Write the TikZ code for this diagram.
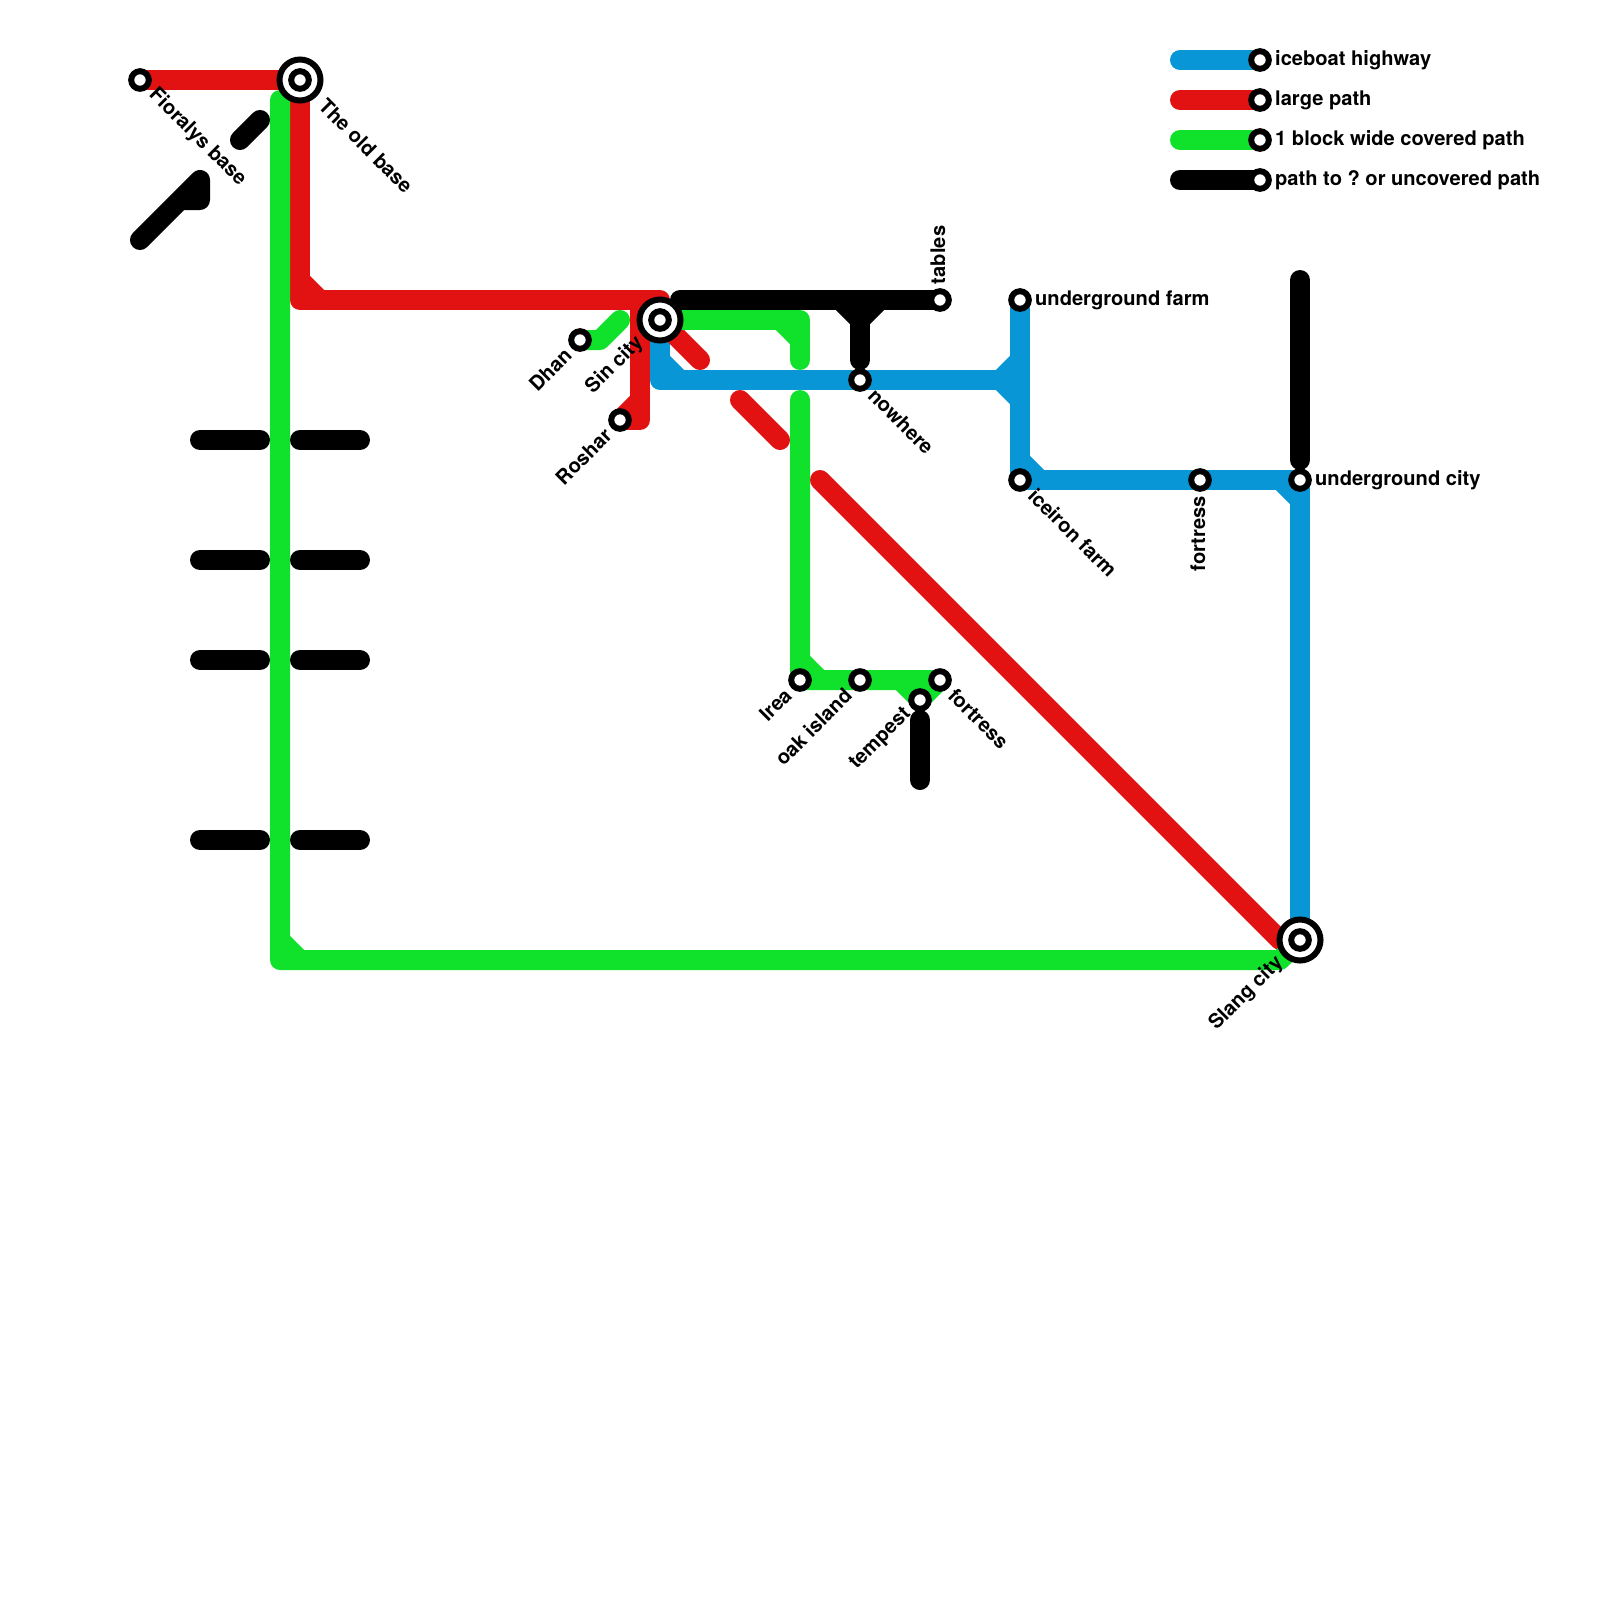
\documentclass[tikz,border=0pt]{standalone}
\usepackage{fontspec}
\setmainfont{TeX Gyre Heros}
\usepackage{xcolor}
\usetikzlibrary{backgrounds}
\definecolor{iceblue}{HTML}{0896D7}
\definecolor{largered}{HTML}{E21212}
\definecolor{coveredgreen}{HTML}{10E22B}
\frenchspacing
\tikzset{
  rail/.style={line width=0.5cm, line cap=round, line join=round},
  blueline/.style={rail, draw=iceblue},
  redline/.style={rail, draw=largered},
  greenline/.style={rail, draw=coveredgreen},
  blackline/.style={rail, draw=black},
  stn/.style={circle, draw=black, fill=white, line width=0.15cm, minimum size=0.44cm, inner sep=0pt, outer sep=0pt},
  hub/.style={circle, draw=black, fill=white, line width=0.15cm, minimum size=1.025cm, inner sep=0pt, outer sep=0pt},
  lbl/.style={font=\bfseries\fontsize{14.3}{16}\selectfont, inner sep=0pt, outer sep=0pt, text=black},
  lblR/.style={lbl, xshift=#1, anchor=west},
  lblR/.default=0.38cm,
  lblSE/.style={lbl, xshift=#1, yshift=-#1, rotate=-45, anchor=west},
  lblSE/.default=0.3cm,
  lblSW/.style={lbl, xshift=-#1, yshift=-#1, rotate=45, anchor=east},
  lblSW/.default=0.3cm,
  lblUp/.style={lbl, xshift=-0.05cm, yshift=0.4cm, rotate=90, anchor=west},
  lblDn/.style={lbl, xshift=-0.05cm, yshift=-0.4cm, rotate=90, anchor=east}
}
\begin{document}
\begin{tikzpicture}[x=0.5cm, y=-0.5cm]
\useasboundingbox (0,0) rectangle (80,80);

\node[stn] (Fio) at (7,4) {};
\node[hub] (Old) at (15,4) {};
\node[stn] (OldC) at (15,4) {};
\node[hub] (Sin) at (33,16) {};
\node[stn] (SinC) at (33,16) {};
\node[hub] (Sl) at (65,47) {};
\node[stn] (SlC) at (65,47) {};
\node[stn] (Dhan) at (29,17) {};
\node[stn] (Ros) at (31,21) {};
\node[stn] (Now) at (43,19) {};
\node[stn] (Tab) at (47,15) {};
\node[stn] (UF) at (51,15) {};
\node[stn] (IF) at (51,24) {};
\node[stn] (Fo) at (60,24) {};
\node[stn] (UC) at (65,24) {};
\node[stn] (Ir) at (40,34) {};
\node[stn] (Oak) at (43,34) {};
\node[stn] (Tem) at (46,35) {};
\node[stn] (For) at (47,34) {};
\node[stn] (L1) at (63,3) {};
\node[stn] (L2) at (63,5) {};
\node[stn] (L3) at (63,7) {};
\node[stn] (L4) at (63,9) {};

\node[lblSE] (FioL) at (Fio) {Fioralys base};
\node[lblSE=0.56cm] (OldL) at (Old) {The old base};
\node[lblSW=0.5cm] (SinL) at (Sin) {Sin city};
\node[lblSW=0.5cm] (SlL) at (Sl) {Slang city};
\node[lblSW] (DhanL) at (Dhan) {Dhan};
\node[lblSW] (RosL) at (Ros) {Roshar};
\node[lblSE] (NowL) at (Now) {nowhere};
\node[lblUp] (TabL) at (Tab) {tables};
\node[lblR] (UFL) at (UF) {underground farm};
\node[lblSE] (IFL) at (IF) {iceiron farm};
\node[lblDn] (FoL) at (Fo) {fortress};
\node[lblR] (UCL) at (UC) {underground city};
\node[lblSW] (IrL) at (Ir) {Irea};
\node[lblSW] (OakL) at (Oak) {oak island};
\node[lblSW] (TemL) at (Tem) {tempest};
\node[lblSE] (ForL) at (For) {fortress};
\node[lblR] (L1L) at (L1) {iceboat highway};
\node[lblR] (L2L) at (L2) {large path};
\node[lblR] (L3L) at (L3) {1 block wide covered path};
\node[lblR] (L4L) at (L4) {path to ? or uncovered path};

\coordinate (bA) at (33,19);
\coordinate (bB) at (51,19);
\coordinate (bC) at (33,18);
\coordinate (bD) at (34,19);
\coordinate (bE) at (50,19);
\coordinate (bF) at (51,18);
\coordinate (bG) at (51,20);
\coordinate (bH) at (51,23);
\coordinate (bI) at (52,24);
\coordinate (bJ) at (64,24);
\coordinate (bK) at (65,25);
\coordinate (rA) at (15,15);
\coordinate (rB) at (33,15);
\coordinate (rC) at (32,15);
\coordinate (rD) at (32,21);
\coordinate (rE) at (15,14);
\coordinate (rF) at (16,15);
\coordinate (rG) at (32,20);
\coordinate (rH) at (35,18);
\coordinate (rI) at (37,20);
\coordinate (rJ) at (39,22);
\coordinate (rK) at (41,24);
\coordinate (rL) at (64,47);
\coordinate (gA) at (14,5);
\coordinate (gB) at (14,48);
\coordinate (gC) at (64,48);
\coordinate (gD) at (14,47);
\coordinate (gE) at (15,48);
\coordinate (gF) at (30,17);
\coordinate (gG) at (31,16);
\coordinate (gH) at (40,16);
\coordinate (gI) at (40,18);
\coordinate (gJ) at (39,16);
\coordinate (gK) at (40,17);
\coordinate (gL) at (40,20);
\coordinate (gM) at (40,33);
\coordinate (gN) at (41,34);
\coordinate (gO) at (45,34);
\coordinate (kA) at (34,15);
\coordinate (kB) at (43,15);
\coordinate (kC) at (43,18);
\coordinate (kD) at (42,15);
\coordinate (kE) at (43,16);
\coordinate (kF) at (44,15);
\coordinate (kG) at (46,36);
\coordinate (kH) at (46,39);
\coordinate (kI) at (65,14);
\coordinate (kJ) at (65,23);
\coordinate (kK) at (7,12);
\coordinate (kL) at (10,9);
\coordinate (kM) at (10,10);
\coordinate (kN) at (9,10);
\coordinate (kO) at (12,7);
\coordinate (kP) at (13,6);
\coordinate (T1a) at (10,22);
\coordinate (T1b) at (13,22);
\coordinate (T2a) at (15,22);
\coordinate (T2b) at (18,22);
\coordinate (T3a) at (10,28);
\coordinate (T3b) at (13,28);
\coordinate (T4a) at (15,28);
\coordinate (T4b) at (18,28);
\coordinate (T5a) at (10,33);
\coordinate (T5b) at (13,33);
\coordinate (T6a) at (15,33);
\coordinate (T6b) at (18,33);
\coordinate (T7a) at (10,42);
\coordinate (T7b) at (13,42);
\coordinate (T8a) at (15,42);
\coordinate (T8b) at (18,42);
\coordinate (A1) at (59,3);
\coordinate (A2) at (59,5);
\coordinate (A3) at (59,7);
\coordinate (A4) at (59,9);

\begin{scope}[on background layer]
\draw[blueline] (Sin.center) -- (bA) -- (Now.center) -- (bB);
\draw[blueline] (UF.center) -- (IF.center) -- (Fo.center) -- (UC.center) -- (Sl.center);
\draw[blueline] (bC) -- (bD);
\draw[blueline] (bF) -- (bE) -- (bG);
\draw[blueline] (bH) -- (bI);
\draw[blueline] (bJ) -- (bK);
\draw[blueline] (A1) -- (L1.center);

\draw[redline] (Fio.center) -- (Old.center) -- (rA) -- (rB) -- (Sin.center);
\draw[redline] (rC) -- (rD) -- (Ros.center);
\draw[redline] (rE) -- (rF);
\draw[redline] (rG) -- (Ros.center);
\draw[redline] (Sin.center) -- (rH);
\draw[redline] (rI) -- (rJ);
\draw[redline] (rK) -- (rL) -- (Sl.center);
\draw[redline] (A2) -- (L2.center);

\draw[greenline] (gA) -- (gB) -- (gC) -- (Sl.center);
\draw[greenline] (gD) -- (gE);
\draw[greenline] (Dhan.center) -- (gF) -- (gG);
\draw[greenline] (Sin.center) -- (gH) -- (gI);
\draw[greenline] (gJ) -- (gK);
\draw[greenline] (gL) -- (Ir.center) -- (Oak.center) -- (For.center) -- (Tem.center);
\draw[greenline] (gM) -- (gN);
\draw[greenline] (gO) -- (Tem.center);
\draw[greenline] (A3) -- (L3.center);

\draw[blackline] (kA) -- (Tab.center);
\draw[blackline] (kB) -- (kC);
\draw[blackline] (kD) -- (kE) -- (kF);
\draw[blackline] (kG) -- (kH);
\draw[blackline] (kI) -- (kJ);
\draw[blackline] (kK) -- (kL) -- (kM) -- (kN);
\draw[blackline] (kO) -- (kP);
\draw[blackline] (T1a) -- (T1b);
\draw[blackline] (T2a) -- (T2b);
\draw[blackline] (T3a) -- (T3b);
\draw[blackline] (T4a) -- (T4b);
\draw[blackline] (T5a) -- (T5b);
\draw[blackline] (T6a) -- (T6b);
\draw[blackline] (T7a) -- (T7b);
\draw[blackline] (T8a) -- (T8b);
\draw[blackline] (A4) -- (L4.center);
\end{scope}
\end{tikzpicture}
\end{document}
